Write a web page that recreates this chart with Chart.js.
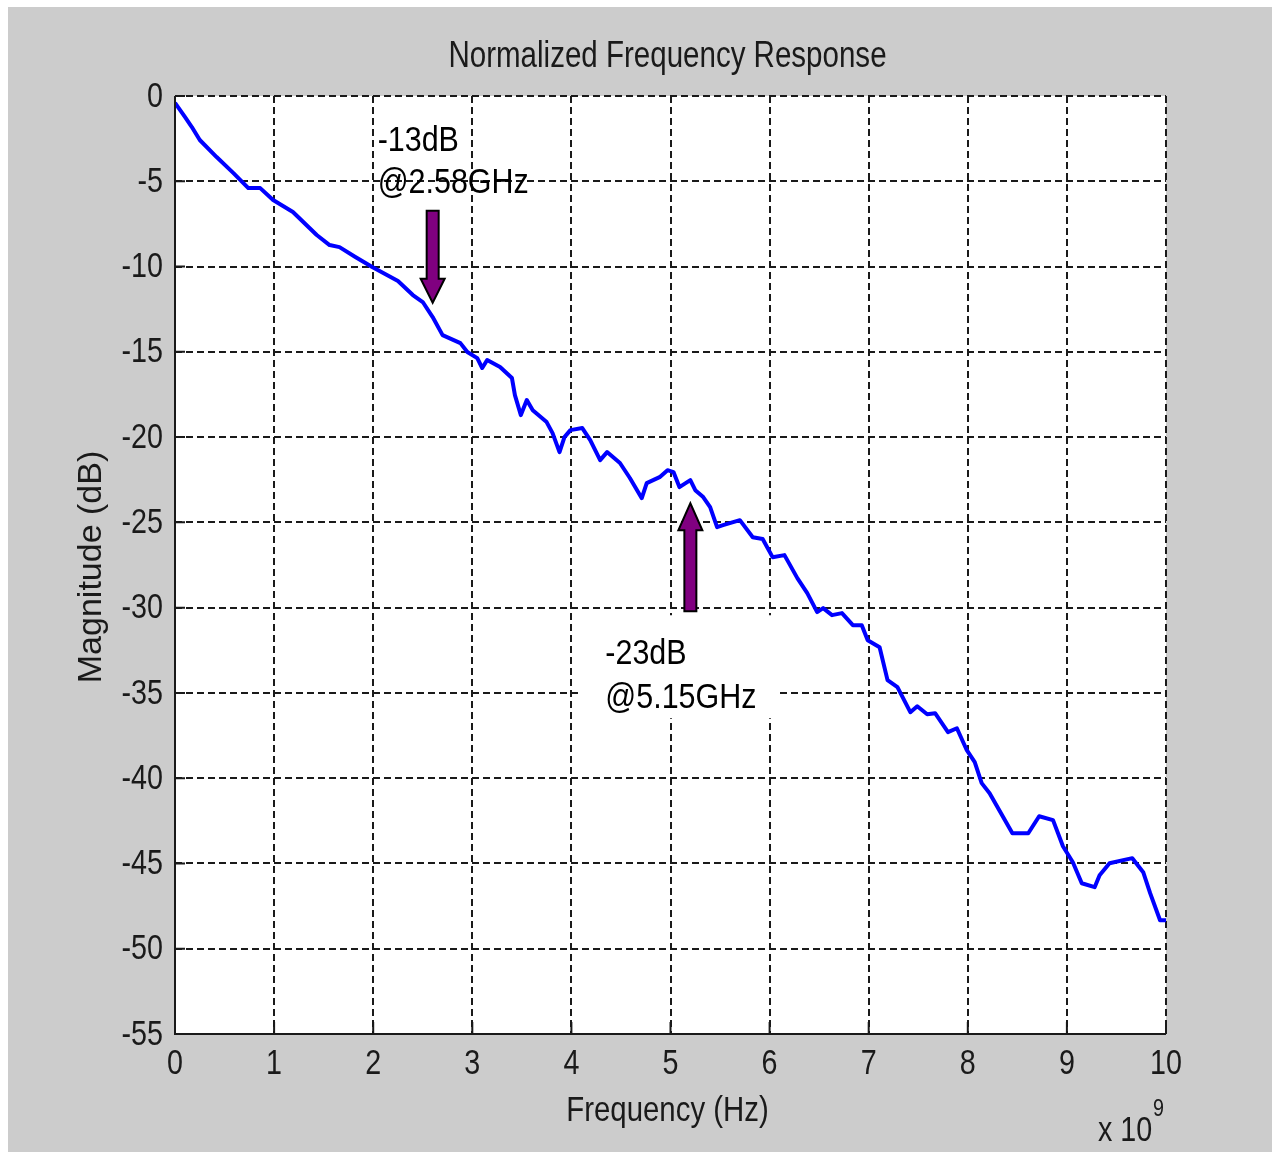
<!DOCTYPE html>
<html>
<head>
<meta charset="utf-8">
<title>Normalized Frequency Response</title>
<script src="https://cdn.jsdelivr.net/npm/chart.js@4.4.0/dist/chart.umd.min.js"></script>
<style>
  html, body { margin: 0; padding: 0; background: #ffffff; }
  #frame { position: absolute; left: 8px; top: 7px; width: 1264px; height: 1145px; background: #cccccc; }
  canvas { display: block; }
</style>
</head>
<body>
<div id="frame"><canvas id="response" width="1264" height="1145"></canvas></div>
<script>
// measured response, frequency in GHz (axis shows x 10^9 Hz)
const freqGHz = [
  0.00, 0.10, 0.17, 0.25, 0.42, 0.59, 0.74, 0.86, 0.99, 1.19,
  1.43, 1.56, 1.66, 1.82, 1.99, 2.25, 2.40, 2.50, 2.60, 2.70,
  2.88, 2.95, 3.05, 3.10, 3.15, 3.28, 3.40, 3.43, 3.49, 3.55,
  3.61, 3.75, 3.81, 3.88, 3.93, 3.99, 4.11, 4.19, 4.29, 4.36,
  4.49, 4.59, 4.71, 4.76, 4.89, 4.97, 5.03, 5.09, 5.20, 5.25,
  5.33, 5.40, 5.47, 5.53, 5.70, 5.83, 5.93, 6.03, 6.15, 6.28,
  6.38, 6.48, 6.54, 6.63, 6.73, 6.84, 6.93, 6.99, 7.11, 7.19,
  7.29, 7.42, 7.49, 7.59, 7.67, 7.80, 7.89, 7.99, 8.07, 8.14,
  8.22, 8.45, 8.61, 8.72, 8.86, 8.96, 9.06, 9.15, 9.28, 9.33,
  9.43, 9.66, 9.77, 9.84, 9.94, 10.00
];
const magnitudeDb = [
  -0.40, -1.23, -1.82, -2.58, -3.58, -4.52, -5.40, -5.40, -6.10, -6.80,
  -8.15, -8.74, -8.86, -9.44, -10.03, -10.85, -11.67, -12.08, -12.96, -14.02,
  -14.49, -15.01, -15.37, -15.95, -15.48, -15.89, -16.54, -17.54, -18.71, -17.83,
  -18.42, -19.12, -19.77, -20.88, -20.00, -19.59, -19.47, -20.18, -21.35, -20.88,
  -21.52, -22.40, -23.58, -22.70, -22.35, -21.94, -22.05, -22.93, -22.52, -23.11,
  -23.52, -24.11, -25.28, -25.16, -24.87, -25.87, -25.98, -27.04, -26.92, -28.27,
  -29.15, -30.26, -30.03, -30.44, -30.32, -31.03, -31.03, -31.91, -32.32, -34.25,
  -34.66, -36.13, -35.78, -36.25, -36.19, -37.30, -37.07, -38.36, -39.06, -40.29,
  -40.88, -43.23, -43.23, -42.23, -42.46, -43.99, -44.93, -46.16, -46.39, -45.69,
  -44.99, -44.69, -45.51, -46.74, -48.33, -48.33
];

// callouts
const markerFreqGHz = [2.58, 5.15];
const markerDb = [-13, -23];
const markerText = [['-13dB', '@2.58GHz'], ['-23dB', '@5.15GHz']];

const chartTitle = 'Normalized Frequency Response';
const xTitle = 'Frequency (Hz)';
const yTitle = 'Magnitude (dB)';

const INK = '#1a1a1a';
const SANS = "'Liberation Sans', Arial, sans-serif";

// condensed text: regular face squeezed horizontally
function narrowText(ctx, text, x, y, size, squeeze, align) {
  ctx.save();
  ctx.font = size + 'px ' + SANS;
  ctx.textAlign = align;
  ctx.translate(x, y);
  ctx.scale(squeeze, 1);
  ctx.fillText(text, 0, 0);
  ctx.restore();
}

function drawArrow(ctx, x, tipY, dir, length, headLen) {
  // dir = 1 points down, -1 points up
  const shaft = 6, head = 12;
  const tailY = tipY - dir * length;
  const baseY = tipY - dir * headLen;
  ctx.beginPath();
  ctx.moveTo(x - shaft, tailY);
  ctx.lineTo(x + shaft, tailY);
  ctx.lineTo(x + shaft, baseY);
  ctx.lineTo(x + head, baseY);
  ctx.lineTo(x, tipY);
  ctx.lineTo(x - head, baseY);
  ctx.lineTo(x - shaft, baseY);
  ctx.closePath();
  ctx.fillStyle = '#800080';
  ctx.fill();
  ctx.lineWidth = 2;
  ctx.strokeStyle = '#000000';
  ctx.stroke();
}

const matlabDecor = {
  id: 'matlabDecor',
  afterDatasetsDraw(chart) {
    const { ctx, chartArea: a, scales: { x, y } } = chart;
    ctx.save();

    // solid axis lines with inward ticks
    ctx.strokeStyle = INK;
    ctx.lineWidth = 2;
    ctx.setLineDash([]);
    ctx.beginPath();
    ctx.moveTo(a.left, a.top);
    ctx.lineTo(a.left, a.bottom);
    ctx.lineTo(a.right, a.bottom);
    x.ticks.forEach(t => {
      const px = x.getPixelForValue(t.value);
      ctx.moveTo(px, a.bottom);
      ctx.lineTo(px, a.bottom - 12);
    });
    y.ticks.forEach(t => {
      const py = y.getPixelForValue(t.value);
      ctx.moveTo(a.left, py);
      ctx.lineTo(a.left + 10, py);
    });
    ctx.stroke();

    // tick labels
    ctx.fillStyle = INK;
    ctx.textBaseline = 'middle';
    x.ticks.forEach(t => {
      narrowText(ctx, String(t.value), x.getPixelForValue(t.value), a.bottom + 30, 35, 0.82, 'center');
    });
    y.ticks.forEach(t => {
      narrowText(ctx, String(t.value), a.left - 12, y.getPixelForValue(t.value) + 1, 35, 0.82, 'right');
    });

    // callout arrows and text
    ctx.textBaseline = 'alphabetic';
    markerFreqGHz.forEach((f, i) => {
      const px = x.getPixelForValue(f);
      const py = y.getPixelForValue(markerDb[i]);
      if (i === 0) {
        drawArrow(ctx, px + 2, py - 15, 1, 92, 24);
        ctx.fillStyle = '#000000';
        narrowText(ctx, markerText[i][0], px - 53, py - 167, 35, 0.87, 'left');
        narrowText(ctx, markerText[i][1], px - 53, py - 125, 35, 0.87, 'left');
      } else {
        ctx.fillStyle = '#ffffff';
        ctx.fillRect(px - 107, py + 127, 200, 103);
        drawArrow(ctx, px + 5, py + 15, -1, 108, 27);
        ctx.fillStyle = '#000000';
        narrowText(ctx, markerText[i][0], px - 80, py + 176, 35, 0.87, 'left');
        narrowText(ctx, markerText[i][1], px - 80, py + 220, 35, 0.87, 'left');
      }
    });

    // titles
    ctx.fillStyle = INK;
    ctx.textBaseline = 'middle';
    narrowText(ctx, chartTitle, (a.left + a.right) / 2 - 3, 50, 36, 0.82, 'center');
    narrowText(ctx, xTitle, (a.left + a.right) / 2 - 3, a.bottom + 77, 35, 0.84, 'center');
    narrowText(ctx, 'x 10', 1090, 1124, 35, 0.82, 'left');
    narrowText(ctx, '9', 1145, 1102, 24, 0.82, 'left');

    ctx.translate(84, (a.top + a.bottom) / 2 + 2);
    ctx.rotate(-Math.PI / 2);
    ctx.textAlign = 'center';
    ctx.font = '34px ' + SANS;
    ctx.fillText(yTitle, 0, 0);

    ctx.restore();
  }
};

const plotBg = {
  id: 'plotBg',
  beforeDraw(chart) {
    const { ctx, chartArea: a } = chart;
    ctx.save();
    ctx.fillStyle = '#ffffff';
    ctx.fillRect(a.left, a.top, a.right - a.left, a.bottom - a.top);
    ctx.restore();
  }
};

const gridStyle = {
  color: INK,
  lineWidth: 2,
  drawTicks: false
};

new Chart(document.getElementById('response'), {
  type: 'line',
  data: {
    datasets: [{
      data: freqGHz.map((f, i) => ({ x: f, y: magnitudeDb[i] })),
      borderColor: '#0000ff',
      borderWidth: 4,
      borderJoinStyle: 'round',
      pointRadius: 0,
      tension: 0,
      fill: false
    }]
  },
  options: {
    responsive: false,
    animation: false,
    layout: { padding: { top: 89, right: 106, left: 0, bottom: 0 } },
    plugins: {
      legend: { display: false },
      title: { display: false },
      tooltip: { enabled: false }
    },
    scales: {
      x: {
        type: 'linear',
        min: 0,
        max: 10,
        afterFit: scale => { scale.height = 118; },
        grid: gridStyle,
        border: { display: false, dash: [7, 4] },
        ticks: { stepSize: 1, display: false }
      },
      y: {
        min: -55,
        max: 0,
        afterFit: scale => { scale.width = 167; },
        grid: gridStyle,
        border: { display: false, dash: [7, 4] },
        ticks: { stepSize: 5, display: false }
      }
    }
  },
  plugins: [plotBg, matlabDecor]
});
</script>
</body>
</html>
